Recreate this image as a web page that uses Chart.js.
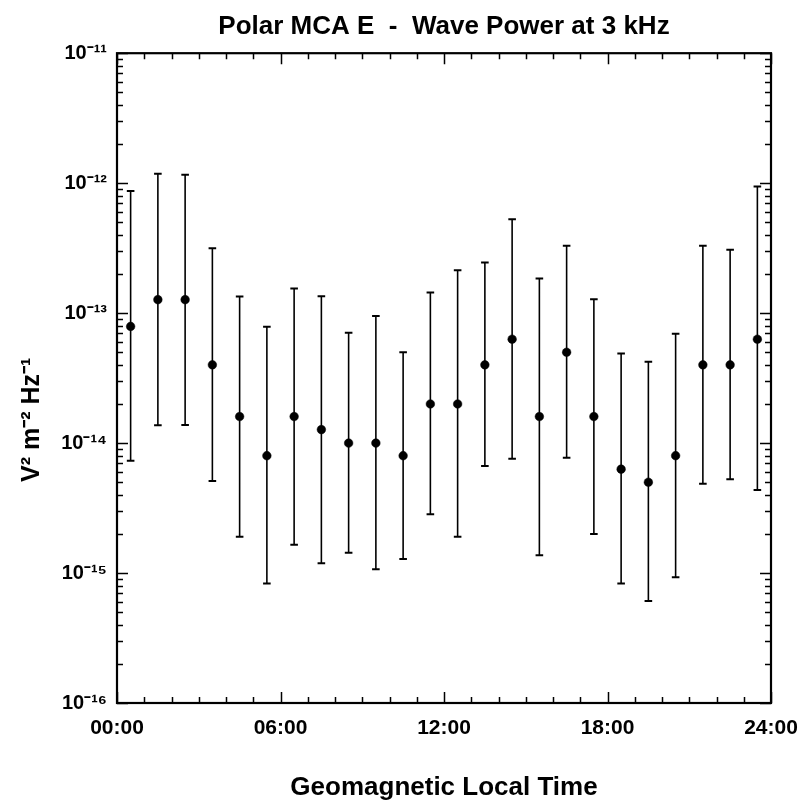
<!DOCTYPE html>
<html>
<head>
<meta charset="utf-8">
<script src="https://cdn.jsdelivr.net/npm/chart.js@4/dist/chart.umd.min.js"></script>
<style>
  html, body { margin: 0; padding: 0; background: #fff; }
  #wrap { width: 803px; height: 803px; }
</style>
</head>
<body>
<div id="wrap"><canvas id="c" width="803" height="803"></canvas></div>
<script>
// ---- data ----
const hours = [0.5, 1.5, 2.5, 3.5, 4.5, 5.5, 6.5, 7.5, 8.5, 9.5, 10.5, 11.5,
               12.5, 13.5, 14.5, 15.5, 16.5, 17.5, 18.5, 19.5, 20.5, 21.5, 22.5, 23.5];
const power = [7.9e-14, 1.27e-13, 1.27e-13, 4.0e-14, 1.6e-14, 8.0e-15, 1.6e-14, 1.27e-14,
               1.0e-14, 1.0e-14, 8.0e-15, 2.0e-14, 2.0e-14, 4.0e-14, 6.3e-14, 1.6e-14,
               5.0e-14, 1.6e-14, 6.3e-15, 5.0e-15, 8.0e-15, 4.0e-14, 4.0e-14, 6.3e-14];
const upper = [8.7e-13, 1.18e-12, 1.16e-12, 3.16e-13, 1.34e-13, 7.85e-14, 1.55e-13, 1.35e-13,
               7.06e-14, 9.5e-14, 4.99e-14, 1.44e-13, 2.14e-13, 2.45e-13, 5.28e-13, 1.85e-13,
               3.3e-13, 1.28e-13, 4.9e-14, 4.23e-14, 6.93e-14, 3.3e-13, 3.07e-13, 9.42e-13];
const lower = [7.3e-15, 1.37e-14, 1.38e-14, 5.1e-15, 1.9e-15, 8.3e-16, 1.65e-15, 1.19e-15,
               1.43e-15, 1.07e-15, 1.28e-15, 2.83e-15, 1.9e-15, 6.65e-15, 7.57e-15, 1.37e-15,
               7.7e-15, 2.0e-15, 8.3e-16, 6.1e-16, 9.3e-16, 4.86e-15, 5.26e-15, 4.35e-15];
const xTickValues = [0, 6, 12, 18, 24];
const xTickLabels = ['00:00', '06:00', '12:00', '18:00', '24:00'];
const yTickValues = [1e-16, 1e-15, 1e-14, 1e-13, 1e-12, 1e-11];
const yTickLabels = ['10\u207B\u00B9\u2076', '10\u207B\u00B9\u2075', '10\u207B\u00B9\u2074',
                     '10\u207B\u00B9\u00B3', '10\u207B\u00B9\u00B2', '10\u207B\u00B9\u00B9'];
const titleText = 'Polar MCA E  -  Wave Power at 3 kHz';
const xTitle = 'Geomagnetic Local Time';
const yTitle = 'V\u00B2 m\u207B\u00B2 Hz\u207B\u00B9';

// ---- derived datasets ----
const whiskers = [];
hours.forEach((h, i) => {
  whiskers.push({x: h, y: lower[i]}, {x: h, y: upper[i]}, {x: h, y: null});
});
const caps = [];
hours.forEach((h, i) => { caps.push({x: h, y: upper[i]}, {x: h, y: lower[i]}); });
const points = hours.map((h, i) => ({x: h, y: power[i]}));

const FONT = "'Liberation Sans', Arial, Helvetica, sans-serif";

// inward ticks + frame
const framePlugin = {
  id: 'frameTicks',
  afterDraw(chart) {
    const {ctx, chartArea: a, scales: {x, y}} = chart;
    ctx.save();
    ctx.strokeStyle = '#000';
    ctx.lineWidth = 1.5;
    ctx.beginPath();
    for (let h = 0; h <= 24; h++) {
      const px = Math.round(x.getPixelForValue(h)) + 0.5;
      const len = (h % 6 === 0) ? 11 : 6;
      ctx.moveTo(px, a.bottom); ctx.lineTo(px, a.bottom - len);
      ctx.moveTo(px, a.top); ctx.lineTo(px, a.top + len);
    }
    for (let e = -16; e <= -11; e++) {
      for (let k = 1; k <= 9; k++) {
        const v = k * Math.pow(10, e);
        if (v > 1.0001e-11) break;
        const py = Math.round(y.getPixelForValue(v)) + 0.5;
        const len = (k === 1) ? 11 : 6;
        ctx.moveTo(a.left, py); ctx.lineTo(a.left + len, py);
        ctx.moveTo(a.right, py); ctx.lineTo(a.right - len, py);
      }
    }
    ctx.stroke();
    ctx.lineWidth = 2.2;
    ctx.strokeRect(a.left, a.top, a.right - a.left, a.bottom - a.top);
    ctx.restore();
  }
};

new Chart(document.getElementById('c'), {
  type: 'scatter',
  data: {
    datasets: [
      {
        type: 'line',
        data: whiskers,
        borderColor: '#000',
        borderWidth: 1.6,
        pointRadius: 0,
        spanGaps: false,
        fill: false,
        order: 3
      },
      {
        data: caps,
        pointStyle: 'line',
        pointRadius: 3.8,
        pointBorderWidth: 2,
        pointBorderColor: '#000',
        showLine: false,
        order: 2
      },
      {
        data: points,
        pointStyle: 'circle',
        pointRadius: 4.3,
        pointBorderWidth: 0.5,
        pointBackgroundColor: '#000',
        pointBorderColor: '#000',
        showLine: false,
        order: 1
      }
    ]
  },
  options: {
    responsive: false,
    animation: false,
    layout: { padding: { left: 0, right: 32, top: 0, bottom: 0 } },
    plugins: {
      legend: { display: false },
      tooltip: { enabled: false },
      title: {
        display: true,
        text: titleText,
        fullSize: false,
        color: '#000',
        font: { family: FONT, size: 26, weight: 'bold' },
        padding: { top: 11, bottom: 11 }
      }
    },
    scales: {
      x: {
        type: 'linear',
        min: 0,
        max: 24,
        grid: { display: false, drawTicks: false },
        border: { display: false },
        afterBuildTicks: (s) => { s.ticks = xTickValues.map(v => ({value: v})); },
        afterFit: (s) => { s.height = 100; s.paddingLeft = 0; s.paddingRight = 0; },
        ticks: {
          autoSkip: false,
          maxRotation: 0,
          padding: 13,
          color: '#000',
          font: { family: FONT, size: 21, weight: 'bold' },
          callback: (v) => { const i = xTickValues.indexOf(v); return i >= 0 ? xTickLabels[i] : ''; }
        },
        title: {
          display: true,
          text: xTitle,
          color: '#000',
          font: { family: FONT, size: 26, weight: 'bold' },
          padding: { top: -3, bottom: 0 }
        }
      },
      y: {
        type: 'logarithmic',
        min: 1e-16,
        max: 1e-11,
        grid: { display: false, drawTicks: false },
        border: { display: false },
        afterBuildTicks: (s) => { s.ticks = yTickValues.map(v => ({value: v})); },
        afterFit: (s) => { s.width = 117; },
        ticks: {
          autoSkip: false,
          padding: 10,
          color: '#000',
          font: { family: FONT, size: 20, weight: 'bold' },
          callback: (v, i) => yTickLabels[i]
        },
        title: {
          display: true,
          text: yTitle + '            ',
          color: '#000',
          font: { family: FONT, size: 25, weight: 'bold' },
          padding: { top: 17, bottom: 0 }
        }
      }
    }
  },
  plugins: [framePlugin]
});
</script>
</body>
</html>
